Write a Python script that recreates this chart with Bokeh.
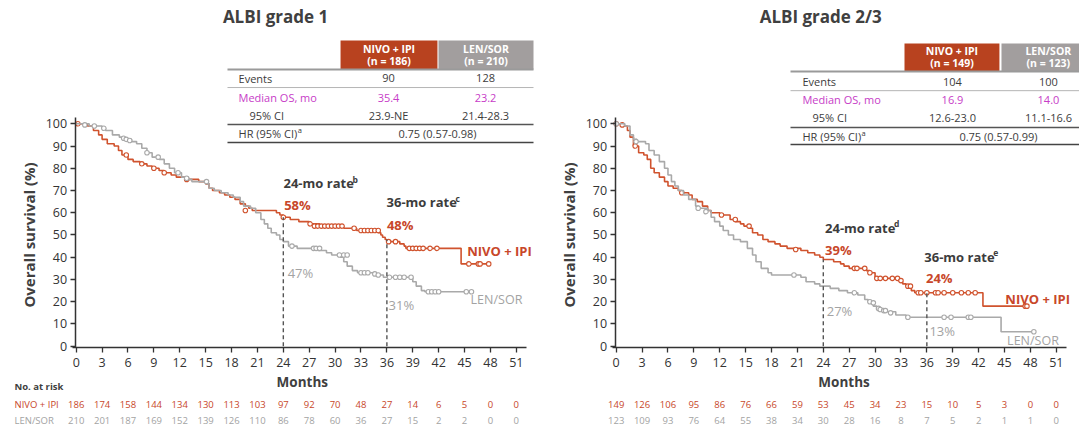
import numpy as np
from bokeh.plotting import figure
from bokeh.models import Range1d, LinearAxis, FixedTicker
from bokeh.layouts import row
from bokeh.embed import file_html
from bokeh.resources import INLINE
from bokeh.core.properties import value

FONT = "Open Sans"
ORANGE = "#C8472A"
ORANGE_LINE = "#D0532E"
GRAY = "#A9A9A9"
GRAY_TXT = "#A3A3A3"
DARK = "#3C3C3C"
MAGENTA = "#C73CC7"
BOX_NIVO = "#B8421F"
BOX_LEN = "#A29E9E"

# ---------------- data ----------------
month_ticks = list(range(0, 52, 3))
pct_ticks = list(range(0, 101, 10))

# ALBI grade 1
g1_nivo_t = [0, 1.3, 2.0, 2.6, 3.0, 3.6, 4.4, 4.9, 5.3, 6.0, 6.6, 7.4, 8.2, 8.8, 9.6, 10.2, 11.0, 11.6,
             12.6, 14.2, 15.0, 15.4, 15.8, 16.6, 17.2, 17.8, 18.4, 19.0, 19.6, 20.0, 20.4, 23.2, 23.6,
             24.0, 24.8, 25.8, 27.0, 28.2, 31.0, 32.5, 35.0, 35.3, 35.5, 35.8, 36.0, 37.5, 38.0, 38.2, 44.6]
g1_nivo_s = [100, 99, 97, 95, 93, 91, 90, 88, 86, 84, 83, 82, 81, 80, 79, 78, 77, 76,
             75, 74, 73, 71, 70, 69, 68, 67, 66, 64, 63, 62, 61, 60, 59,
             58, 57, 56, 55, 54, 53, 52, 51, 50, 49, 48, 47, 46, 45, 44, 37]
g1_nivo_ct = [0.2, 5.8, 7.6, 9.0, 10.2, 12.8, 19.6, 24.0, 27.1, 27.6, 28.0, 28.4, 28.8, 29.2, 29.6, 30.0,
              30.4, 30.8, 32.2, 33.0, 33.4, 33.8, 34.2, 34.6, 35.0, 36.2, 37.0, 38.6, 39.0, 39.4, 39.8,
              40.2, 41.0, 41.8, 45.5, 46.6, 46.8, 47.8]
g1_nivo_cs = [100, 86, 82, 80, 78, 75, 61, 58, 55, 54, 54, 54, 54, 54, 54, 54,
              54, 54, 53, 52, 52, 52, 52, 52, 52, 47, 47, 44, 44, 44, 44,
              44, 44, 44, 37, 37, 37, 37]

g1_len_t = [0, 1.5, 3.0, 3.4, 4.2, 5.0, 5.4, 6.4, 7.0, 7.6, 8.2, 8.8, 9.6, 10.2, 10.8, 11.4, 12.2, 13.0,
            13.4, 15.2, 15.4, 16.0, 16.8, 17.6, 18.2, 19.0, 19.4, 20.2, 20.8, 21.4, 21.8, 22.2, 22.6,
            23.2, 23.6, 24.0, 24.6, 25.6, 28.0, 29.0, 29.6, 30.6, 31.0, 31.4, 32.0, 32.6, 34.6, 35.6,
            39.0, 39.4, 40.0, 40.4]
g1_len_s = [100, 99, 98, 97, 95, 94, 93, 92, 91, 89, 87, 85, 84, 82, 80, 78, 76, 75,
            74, 73, 71, 70, 69, 68, 67, 65, 63, 62, 60, 57, 55, 53, 51,
            50, 48, 47, 45, 44, 43, 42, 41, 40, 38, 36, 34, 33, 32, 31,
            29, 27, 25, 24.5]
g1_len_ct = [1.0, 2.1, 3.2, 5.5, 5.8, 6.2, 8.2, 9.5, 11.8, 12.8, 15.1, 25.0, 27.5, 27.8, 28.2, 30.5,
             31.0, 31.4, 33.0, 33.4, 33.8, 34.6, 35.0, 36.3, 37.0, 37.5, 38.0, 38.8, 40.8, 41.2,
             41.6, 42.0, 45.2, 45.8]
g1_len_cs = [99.5, 99, 98, 93.5, 93, 92.5, 87, 85, 78, 75.5, 74, 45, 44, 44, 44, 41,
             41, 41, 33, 33, 33, 32.5, 32, 31, 31, 31, 31, 31, 24.5, 24.5,
             24.5, 24.5, 24.5, 24.5]

# ALBI grade 2/3
g23_nivo_t = [0, 0.9, 1.3, 1.6, 2.0, 2.6, 3.2, 3.6, 4.0, 4.4, 5.0, 5.6, 6.0, 6.6, 7.2, 7.6, 8.4, 8.8,
              9.4, 10.0, 10.6, 11.0, 12.0, 13.2, 13.8, 14.4, 14.8, 15.4, 15.8, 16.4, 17.0, 17.6, 18.4,
              19.0, 19.8, 21.4, 22.2, 23.0, 23.6, 24.0, 25.2, 26.0, 26.4, 27.0, 29.0, 29.4, 30.0, 30.4,
              32.6, 32.8, 33.2, 33.6, 34.2, 34.6, 42.5]
g23_nivo_s = [100, 99, 97, 94, 90, 87, 86, 84, 80, 78, 76, 74, 72, 71, 70, 69, 68, 66,
              65, 63, 61, 60, 59, 57, 56, 55, 54, 53, 51, 50, 48, 47, 46,
              45, 44, 43, 42, 41, 40, 39, 38, 37, 36, 35, 34, 33, 31, 30.5,
              30, 29, 28, 27, 25, 24, 18]
g23_nivo_ct = [0.0, 0.7, 2.2, 7.6, 12.2, 13.8, 15.4, 20.8, 27.6, 27.9, 28.8, 29.4, 30.2, 30.6, 31.2, 32.0,
               32.6, 33.0, 33.8, 34.1, 35.0, 35.3, 36.0, 37.0, 37.3, 38.0, 39.0, 40.0, 40.8, 41.6, 47.4, 47.6]
g23_nivo_cs = [100, 99.5, 90, 69, 59, 57, 54, 43.5, 35, 35, 35, 33, 30.5, 30.5, 30.5, 30.5,
               30.5, 29.5, 27, 27, 24, 24, 24, 24, 24, 24, 24, 24, 24, 24, 18, 18]

g23_len_t = [0, 1.0, 1.6, 2.0, 2.4, 3.4, 3.8, 4.4, 5.0, 5.6, 6.0, 6.4, 6.8, 7.2, 7.8, 8.4, 9.2, 9.6,
             10.6, 11.0, 11.4, 12.0, 12.4, 13.0, 13.6, 14.4, 15.2, 15.8, 16.2, 16.8, 17.6, 18.0, 21.4,
             22.0, 23.0, 23.6, 24.8, 25.8, 26.8, 28.0, 28.8, 29.2, 29.8, 30.2, 30.8, 31.2, 32.4, 33.6, 44.6]
g23_len_s = [100, 99, 95, 93, 92, 91, 88, 86, 83, 80, 77, 74, 72, 70, 68, 66, 63, 62,
             61, 58, 56, 54, 52, 50, 48, 47, 44, 41, 38, 35, 33, 32, 31,
             29, 28, 27, 26, 25, 24, 23, 21, 20, 18, 17, 16, 15.5, 14, 13, 6.5]
g23_len_ct = [0.0, 2.3, 9.5, 10.4, 20.6, 27.6, 29.4, 29.8, 30.4, 30.6, 31.0, 31.2, 31.8, 33.8, 38.0,
              38.8, 40.8, 41.1, 48.4]
g23_len_cs = [100, 92, 62, 60.5, 32, 24, 20, 19.5, 17, 16.5, 16, 16, 15, 13, 13,
              13, 13, 13, 6.5]

g1_risk_nivo = [186, 174, 158, 144, 134, 130, 113, 103, 97, 92, 70, 48, 27, 14, 6, 5, 0, 0]
g1_risk_len = [210, 201, 187, 169, 152, 139, 126, 110, 86, 78, 60, 36, 27, 15, 2, 2, 0, 0]
g23_risk_nivo = [149, 126, 106, 95, 86, 76, 66, 59, 53, 45, 34, 23, 15, 10, 5, 3, 0, 0]
g23_risk_len = [123, 109, 93, 76, 64, 55, 38, 34, 30, 28, 16, 8, 7, 5, 2, 1, 1, 0]

rate_months = [24, 36]
g1_rates_nivo = [58, 48]
g1_rates_len = [47, 31]
g23_rates_nivo = [39, 24]
g23_rates_len = [27, 13]

arm_names = ["NIVO + IPI", "LEN/SOR"]
g1_n = [186, 210]
g23_n = [149, 123]
g1_events = [90, 128]
g23_events = [104, 100]
g1_median = ["35.4", "23.2"]
g23_median = ["16.9", "14.0"]
g1_ci = ["23.9-NE", "21.4-28.3"]
g23_ci = ["12.6-23.0", "11.1-16.6"]
g1_hr = "0.75 (0.57-0.98)"
g23_hr = "0.75 (0.57-0.99)"

Y_TOP = 155.44
Y_BOT = -36.11
HEIGHT = 426


# ---------------- helpers ----------------
def txt(p, x, y, s, size="11px", color=DARK, bold=False, align="left", baseline="middle", angle=0):
    p.text(x=[x], y=[y], text=[s], text_font=value(FONT), text_font_size=value(size),
           text_color=color, text_font_style="bold" if bold else "normal",
           text_align=align, text_baseline=baseline, angle=angle)


def panel(width, xr, title, tx, nivo, lenv, risk, rates_n, rates_l, sups, n, events, median, ci, hr,
          tab, ann, row_labels):
    p = figure(width=width, height=HEIGHT, x_range=Range1d(*xr), y_range=Range1d(Y_BOT, Y_TOP),
               x_axis_type=None, y_axis_type=None, toolbar_location=None, output_backend="svg",
               min_border=0, outline_line_color=None)
    p.grid.visible = False
    p.background_fill_color = "white"
    p.border_fill_color = "white"

    xa = LinearAxis(ticker=FixedTicker(ticks=month_ticks), fixed_location=-0.72, bounds=(-0.4, 52.2))
    ya = LinearAxis(ticker=FixedTicker(ticks=pct_ticks), fixed_location=-0.12, bounds=(-0.72, 102.8))
    for a in (xa, ya):
        a.axis_line_color = "#333333"
        a.axis_line_width = 1.5
        a.major_tick_line_color = "#333333"
        a.major_tick_line_width = 1.3
        a.major_tick_out = 5
        a.major_tick_in = 0
        a.minor_tick_line_color = None
        a.major_label_text_font = FONT
        a.major_label_text_font_size = "12.5px"
        a.major_label_text_color = "#333333"
    xa.major_label_standoff = 5
    ya.major_label_standoff = 3
    p.add_layout(xa, "below")
    p.add_layout(ya, "left")

    # curves
    for (t, s, ct, cs), col in ((nivo, ORANGE_LINE), (lenv, GRAY)):
        end = max(ct)
        xs = list(t) + [end]
        ys = list(s) + [s[-1]]
        p.step(x=xs, y=ys, mode="after", line_color=col, line_width=1.6)
        p.scatter(x=ct, y=cs, marker="circle", size=4.5, fill_color="white", line_color=col, line_width=1.1)

    # dashed rate markers
    p.segment(x0=rate_months, y0=[0, 0], x1=rate_months, y1=rates_n, line_color="#555555",
              line_width=1.4, line_dash="4 3")

    # annotations
    for i, m in enumerate(rate_months):
        lx, ly = ann["rate_lbl"][i]
        txt(p, lx, ly, f"{m}-mo rate", "13px", DARK, True)
        txt(p, lx + ann["sup_dx"], ly + 1.8, sups[i], "8.5px", DARK, True)
        nx, ny = ann["nivo_pct"][i]
        txt(p, nx, ny, f"{rates_n[i]}%", "13px", ORANGE, True)
        gx, gy = ann["len_pct"][i]
        txt(p, gx, gy, f"{rates_l[i]}%", "13px", GRAY_TXT, False)
    txt(p, ann["nivo_name"][0], ann["nivo_name"][1], arm_names[0], "13px", ORANGE, True)
    txt(p, ann["len_name"][0], ann["len_name"][1], arm_names[1], "12.5px", GRAY_TXT, False)

    # title
    txt(p, tx, 148.2, title, "17px", "#404040", True, "center")

    # y-axis label and x-axis label
    txt(p, -5.45, 50, "Overall survival (%)", "15px", "#404040", True, "center", angle=np.pi / 2)
    txt(p, ann["months_x"], -16.3, "Months", "13.5px", "#404040", True, "center")

    # risk table
    if row_labels:
        txt(p, -7.15, -18.3, "No. at risk", "9.5px", "#404040", True)
        txt(p, -7.15, -26.2, arm_names[0], "9.5px", ORANGE)
        txt(p, -7.15, -33.4, arm_names[1], "9.5px", GRAY_TXT)
    p.text(x=month_ticks, y=[-26.2] * len(month_ticks), text=[str(v) for v in risk[0]],
           text_font=value(FONT), text_font_size=value("9.5px"), text_color=ORANGE,
           text_align="center", text_baseline="middle")
    p.text(x=month_ticks, y=[-33.4] * len(month_ticks), text=[str(v) for v in risk[1]],
           text_font=value(FONT), text_font_size=value("9.5px"), text_color=GRAY_TXT,
           text_align="center", text_baseline="middle")

    # summary table
    L, B1, B2, R = tab["L"], tab["b1"], tab["b2"], tab["R"]
    yb, yt = tab["box"]
    p.quad(left=[B1, tab["b2l"]], right=[B2, tab["b2r"]], bottom=[yb, yb], top=[yt, yt],
           fill_color=[BOX_NIVO, BOX_LEN], line_color=None)
    c1, c2 = (B1 + B2) / 2, (tab["b2l"] + tab["b2r"]) / 2
    hy1, hy2 = tab["hdr"]
    txt(p, c1, hy1, arm_names[0], "10.5px", "white", True, "center")
    txt(p, c1, hy2, f"(n = {n[0]})", "10.5px", "white", True, "center")
    txt(p, c2, hy1, arm_names[1], "10.5px", "white", True, "center")
    txt(p, c2, hy2, f"(n = {n[1]})", "10.5px", "white", True, "center")
    ly = tab["lines"]
    p.segment(x0=[L] * 4, x1=[R] * 4, y0=ly, y1=ly,
              line_color=["#9A9A9A", "#B5B5B5", "#555555", "#444444"], line_width=[2, 1, 1.5, 1.5])
    ry = tab["rows"]
    lx = tab["lx"]
    txt(p, lx, ry[0], "Events", "11px", DARK)
    txt(p, lx, ry[1], "Median OS, mo", "11px", MAGENTA)
    txt(p, tab["cix"], ry[2], "95% CI", "11px", DARK)
    txt(p, lx, ry[3], "HR (95% CI)", "11px", DARK)
    txt(p, lx + tab["hr_sup_dx"], ry[3] + 1.4, "a", "7.5px", DARK)
    for j, c in enumerate((tab["v1"], tab["v2"])):
        txt(p, c, ry[0], str(events[j]), "11px", DARK, False, "center")
        txt(p, c, ry[1], median[j], "11px", MAGENTA, False, "center")
        txt(p, c, ry[2], ci[j], "11px", DARK, False, "center")
    txt(p, tab["hrx"], ry[3], hr, "11px", DARK, False, "center")
    return p


p1 = panel(
    540, (-8.772, 53.80), "ALBI grade 1", 23.1,
    (g1_nivo_t, g1_nivo_s, g1_nivo_ct, g1_nivo_cs), (g1_len_t, g1_len_s, g1_len_ct, g1_len_cs),
    (g1_risk_nivo, g1_risk_len), g1_rates_nivo, g1_rates_len, ["b", "c"],
    g1_n, g1_events, g1_median, g1_ci, g1_hr,
    dict(L=17.53, R=52.99, b1=30.63, b2=41.86, b2l=41.98, b2r=52.99, box=(124.4, 137.5),
         hdr=(133.7, 128.1), lines=[124.4, 116.3, 99.7, 91.6], rows=[120.4, 111.8, 103.7, 95.7],
         lx=18.81, cix=20.08, v1=36.19, v2=47.43, hrx=41.86, hr_sup_dx=6.85),
    dict(rate_lbl=[(24.02, 73.2), (35.96, 64.7)], sup_dx=8.0, nivo_pct=[(24.1, 63.7), (36.0, 54.3)],
         len_pct=[(24.5, 33.1), (36.2, 18.6)], nivo_name=(45.3, 43.0), len_name=(45.7, 20.9), months_x=26.2),
    True)

p2 = panel(
    539, (-8.772, 53.69), "ALBI grade 2/3", 23.7,
    (g23_nivo_t, g23_nivo_s, g23_nivo_ct, g23_nivo_cs), (g23_len_t, g23_len_s, g23_len_ct, g23_len_cs),
    (g23_risk_nivo, g23_risk_len), g23_rates_nivo, g23_rates_len, ["d", "e"],
    g23_n, g23_events, g23_median, g23_ci, g23_hr,
    dict(L=20.2, R=54.5, b1=33.41, b2=44.41, b2l=44.65, b2r=55.5, box=(123.5, 136.1),
         hdr=(132.6, 127.2), lines=[123.5, 114.9, 98.3, 90.7], rows=[119.0, 110.8, 102.8, 94.3],
         lx=21.58, cix=22.74, v1=38.97, v2=50.09, hrx=44.3, hr_sup_dx=6.85),
    dict(rate_lbl=[(24.2, 53.2), (35.7, 40.0)], sup_dx=8.0, nivo_pct=[(24.2, 43.3), (35.9, 30.6)],
         len_pct=[(24.4, 15.6), (36.3, 7.0)], nivo_name=(45.1, 21.3), len_name=(45.3, 2.5), months_x=26.4),
    False)

layout = row(p1, p2, spacing=0)
open("out.html", "w").write(file_html(layout, INLINE))
